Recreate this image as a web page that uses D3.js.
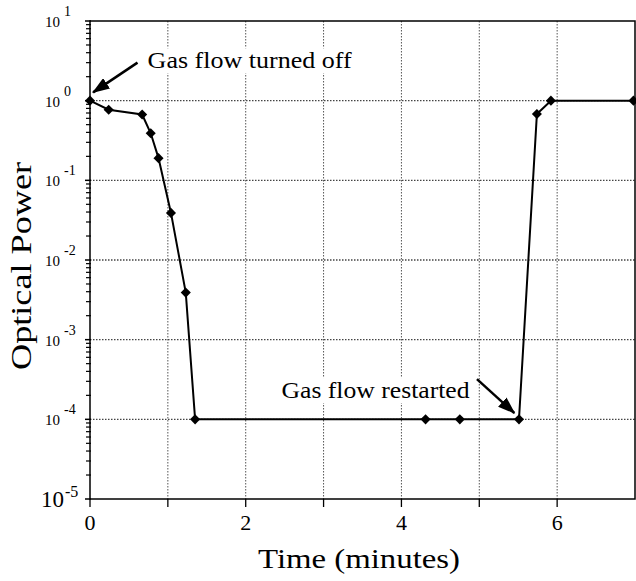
<!DOCTYPE html>
<html><head><meta charset="utf-8">
<script src="https://cdn.jsdelivr.net/npm/d3@7/dist/d3.min.js"></script>
<style>body{margin:0;background:#fff}svg{display:block}text{font-family:"Liberation Serif","Times New Roman",serif;fill:#000}</style>
</head><body><svg id="c" width="636" height="581"></svg>
<script>
const timeMin = [0, 0.24, 0.67, 0.78, 0.88, 1.04, 1.23, 1.35, 4.31, 4.75, 5.51, 5.74, 5.92, 6.98];
const opticalPower = [1, 0.77, 0.67, 0.39, 0.19, 0.039, 0.0039, 1e-4, 1e-4, 1e-4, 1e-4, 0.68, 1, 1];
const xTicks = [0, 2, 4, 6];
const xGrid = [1, 2, 3, 4, 5, 6];
const yExponents = [1, 0, -1, -2, -3, -4, -5];
const annotations = [
  {text: "Gas flow turned off", tx: 0.74, ty: 2.55, len: 204, from: [0.61, 3.0], to: [0.04, 1.27]},
  {text: "Gas flow restarted", tx: 2.46, ty: 1.85e-4, len: 188, from: [4.97, 3.2e-4], to: [5.45, 1.2e-4]}
];

const svg = d3.select("#c");
const L = 90, R = 635, T = 21, B = 499;
const x = d3.scaleLinear().domain([0, 7]).range([L, R]);
const y = d3.scaleLog().domain([1e-5, 10]).range([B, T]);

// grid
svg.append("g").selectAll("line").data(xGrid).join("line")
  .attr("x1", d => x(d)).attr("x2", d => x(d)).attr("y1", T).attr("y2", B)
  .attr("stroke", "#555").attr("stroke-width", 1).attr("stroke-dasharray", "1.5,1.5");
svg.append("g").selectAll("line").data(yExponents.filter(e => e < 1 && e > -5)).join("line")
  .attr("x1", L).attr("x2", R).attr("y1", e => y(Math.pow(10, e))).attr("y2", e => y(Math.pow(10, e)))
  .attr("stroke", "#444").attr("stroke-width", 1.3).attr("stroke-dasharray", "1.5,1.5");

// frame
svg.append("rect").attr("x", L).attr("y", T).attr("width", R - L).attr("height", B - T)
  .attr("fill", "none").attr("stroke", "#000").attr("stroke-width", 1.5);

// y axis ticks (major + minor)
const yMinor = [];
for (let e = -5; e < 1; e++) for (let m = 2; m <= 9; m++) yMinor.push(m * Math.pow(10, e));
svg.append("g").selectAll("line").data(yMinor).join("line")
  .attr("x1", L - 4).attr("x2", L + 1).attr("y1", d => y(d)).attr("y2", d => y(d))
  .attr("stroke", "#000").attr("stroke-width", 1.2);
svg.append("g").selectAll("line").data(yExponents).join("line")
  .attr("x1", L - 5).attr("x2", L + 1).attr("y1", e => y(Math.pow(10, e))).attr("y2", e => y(Math.pow(10, e)))
  .attr("stroke", "#000").attr("stroke-width", 1.5);

// y tick labels
const yl = svg.append("g").selectAll("text").data(yExponents).join("text")
  .attr("text-anchor", "start")
  .attr("x", e => e === -5 ? 41 : 45)
  .attr("y", e => y(Math.pow(10, e)) + (e === -5 ? 8 : 6))
  .attr("font-size", e => e === -5 ? 23 : 15);
yl.append("tspan").text("10");
yl.append("tspan").attr("dy", e => e === -5 ? -10 : -11).attr("dx", e => e === -5 ? 1 : 4)
  .attr("font-size", e => e === -5 ? 16 : 14).text(e => e);

// x axis ticks
svg.append("g").selectAll("line").data(d3.range(0, 7)).join("line")
  .attr("x1", d => x(d)).attr("x2", d => x(d)).attr("y1", B).attr("y2", B + 8)
  .attr("stroke", "#000").attr("stroke-width", 1.3);
svg.append("g").selectAll("text").data(xTicks).join("text")
  .attr("x", d => x(d)).attr("y", 530).attr("text-anchor", "middle")
  .attr("font-size", 22).text(d => d);

// axis titles
svg.append("text").attr("x", 258).attr("y", 568)
  .attr("font-size", 28).attr("textLength", 202).attr("lengthAdjust", "spacingAndGlyphs").text("Time (minutes)");
svg.append("text").attr("transform", "translate(31,370) rotate(-90)")
  .attr("font-size", 29).attr("textLength", 208).attr("lengthAdjust", "spacingAndGlyphs").text("Optical Power");

// data line
const line = d3.line().x((d, i) => x(timeMin[i])).y(d => y(d));
svg.append("path").datum(opticalPower).attr("d", line)
  .attr("fill", "none").attr("stroke", "#000").attr("stroke-width", 2);
svg.append("g").selectAll("path").data(opticalPower).join("path")
  .attr("transform", (d, i) => `translate(${x(timeMin[i])},${y(d)})`)
  .attr("d", d3.symbol(d3.symbolDiamond2, 65)).attr("fill", "#000");

// annotations
const defs = svg.append("defs");
defs.append("marker").attr("id", "ah").attr("viewBox", "0 0 14 10").attr("refX", 13).attr("refY", 5)
  .attr("markerWidth", 7).attr("markerHeight", 5).attr("orient", "auto").attr("markerUnits", "strokeWidth")
  .append("path").attr("d", "M0,0L14,5L0,10Z").attr("fill", "#000");
annotations.forEach(a => {
  svg.append("rect").attr("x", x(a.tx) - 4).attr("y", y(a.ty) - 20).attr("width", a.len + 8).attr("height", 25).attr("fill", "#fff");
  svg.append("text").attr("x", x(a.tx)).attr("y", y(a.ty)).attr("font-size", 23)
    .attr("textLength", a.len).attr("lengthAdjust", "spacingAndGlyphs").text(a.text);
  svg.append("line").attr("x1", x(a.from[0])).attr("y1", y(a.from[1])).attr("x2", x(a.to[0])).attr("y2", y(a.to[1]))
    .attr("stroke", "#000").attr("stroke-width", 2.5).attr("marker-end", "url(#ah)");
});
</script></body></html>
